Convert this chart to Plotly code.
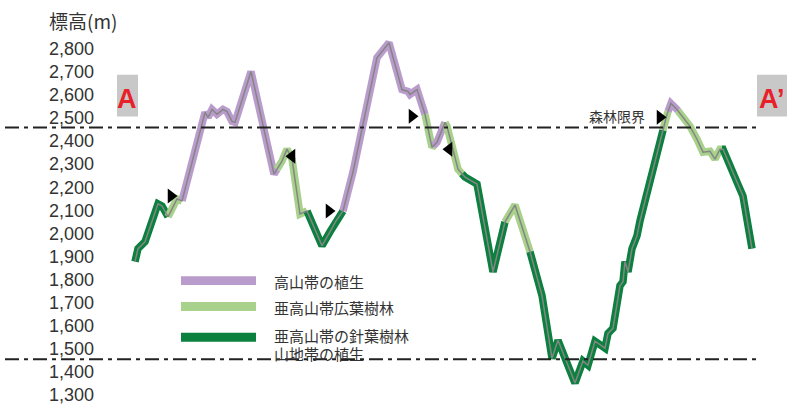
import numpy as np
import plotly.graph_objects as go

# profile A - A' : distance along section (arbitrary units) and elevation (m)
distance = [2, 5, 12, 25, 29, 35, 44, 49, 72, 75, 79, 84, 90, 94, 99, 102, 118,
            141, 149, 154, 159, 167, 174, 189, 197, 203, 210, 220, 244, 256, 269,
            275, 277, 284, 292, 299, 304, 312, 314, 325, 332, 344, 360, 372, 382,
            397, 409, 419, 425, 442, 450, 455, 462, 472, 475, 480, 487, 490, 492,
            495, 499, 504, 507, 534, 538, 544, 557, 564, 570, 577, 582, 587, 590,
            604, 610, 619]
elevation = [1878, 1934, 1964, 2128, 2119, 2072, 2149, 2141, 2524, 2503, 2537,
             2516, 2537, 2528, 2485, 2481, 2701, 2257, 2313, 2365, 2322, 2084,
             2097, 1947, 2007, 2054, 2097, 2266, 2761, 2826, 2623, 2615, 2602,
             2623, 2516, 2373, 2395, 2481, 2464, 2278, 2244, 2214, 1834, 2050,
             2123, 1921, 1731, 1459, 1537, 1352, 1447, 1429, 1533, 1503, 1567,
             1589, 1774, 1791, 1878, 1834, 1934, 1990, 2054, 2516, 2563, 2537,
             2464, 2408, 2352, 2356, 2322, 2365, 2365, 2222, 2162, 1934]

# vegetation zones along the profile
zone_start = [2, 35, 49, 144, 174, 210, 292, 300, 312, 329, 372, 397, 530, 535, 545, 589]
zone_end = [35, 49, 144, 174, 210, 292, 300, 312, 329, 372, 397, 530, 535, 545, 589, 619]
zone_kind = ["conifer", "broadleaf", "alpine", "broadleaf", "conifer", "alpine",
             "broadleaf", "alpine", "broadleaf", "conifer", "broadleaf", "conifer",
             "broadleaf", "alpine", "broadleaf", "conifer"]

legend_labels = ["高山帯の植生", "亜高山帯広葉樹林", "亜高山帯の針葉樹林"]
zone_colors = {"alpine": "#b99ccb", "broadleaf": "#a8d18c", "conifer": "#0b803f"}

# boundary markers
mark_dist = [38, 159, 196, 279, 316, 527]
mark_elev = [2162, 2334, 2097, 2507, 2365, 2503]
mark_dir = ["right", "left", "right", "right", "left", "right"]

forest_limit = 2459
lower_limit = 1455
y_ticks = list(range(1300, 2801, 100))

fig = go.Figure()

d = np.array(distance, dtype=float)
e = np.array(elevation, dtype=float)
for s, t, k in zip(zone_start, zone_end, zone_kind):
    inner = (d > s) & (d < t)
    xs = np.concatenate([[s], d[inner], [t]])
    ys = np.concatenate([[np.interp(s, d, e)], e[inner], [np.interp(t, d, e)]])
    fig.add_trace(go.Scatter(x=xs, y=ys, mode="lines", hoverinfo="skip",
                             line=dict(color=zone_colors[k], width=7.5),
                             showlegend=False))

fig.add_trace(go.Scatter(x=distance, y=elevation, mode="lines", hoverinfo="skip",
                         line=dict(color="#858585", width=1.5), showlegend=False))

fig.add_trace(go.Scatter(x=mark_dist, y=mark_elev, mode="markers", hoverinfo="skip",
                         marker=dict(symbol=["triangle-" + m for m in mark_dir],
                                     size=13, color="black"),
                         showlegend=False))

dash = dict(color="#222", width=2, dash="14px,5px,4px,5px")
for lvl in [forest_limit, lower_limit]:
    fig.add_shape(type="line", xref="paper", yref="y", x0=5 / 787, x1=757 / 787,
                  y0=lvl, y1=lvl, line=dash)


def note(px, py, text, size, color="#333", anchor="center", family="Noto Sans CJK JP"):
    fig.add_annotation(x=px / 787, y=1 - py / 405, xref="paper", yref="paper",
                       text=text, showarrow=False, xanchor=anchor, yanchor="middle",
                       font=dict(family=family, size=size, color=color))


# A / A' end labels
for x0, x1, txt in [(117, 138, "A"), (757, 787, "A’")]:
    fig.add_shape(type="rect", xref="paper", yref="paper", x0=x0 / 787, x1=x1 / 787,
                  y0=1 - 117 / 405, y1=1 - 75 / 405, fillcolor="#c8c8c8", line_width=0)
    note((x0 + x1) / 2, 99, "<b>" + txt + "</b>", 27, "#e8202a", family="Liberation Sans")

# legend
legend_y = [282, 308, 339]
for k, ly in zip(["alpine", "broadleaf", "conifer"], legend_y):
    fig.add_shape(type="rect", xref="paper", yref="paper", x0=181 / 787, x1=256 / 787,
                  y0=1 - (ly + 4.5) / 405, y1=1 - (ly - 4.5) / 405,
                  fillcolor=zone_colors[k], line_width=0)
for lab, ty in zip(legend_labels + ["山地帯の植生"], [283, 309, 337, 355]):
    note(272, ty, lab, 15, anchor="left")

note(617, 117, "森林限界", 14)
note(83, 21, "標高(m)", 19)

fig.update_layout(
    width=787, height=405, margin=dict(l=0, r=0, t=0, b=0),
    plot_bgcolor="white", paper_bgcolor="white",
    xaxis=dict(range=[-133, 654], visible=False),
    yaxis=dict(range=[1265.5, 3011], anchor="free", position=94 / 787,
               tickvals=y_ticks, tickformat=",", showgrid=False, zeroline=False,
               showline=False, ticks="", ticklabeloverflow="allow",
               tickfont=dict(family="Liberation Sans", size=18, color="#333")),
)

fig.write_html("out.html", config={"displayModeBar": False},
               post_script="document.body.style.margin='0';")
